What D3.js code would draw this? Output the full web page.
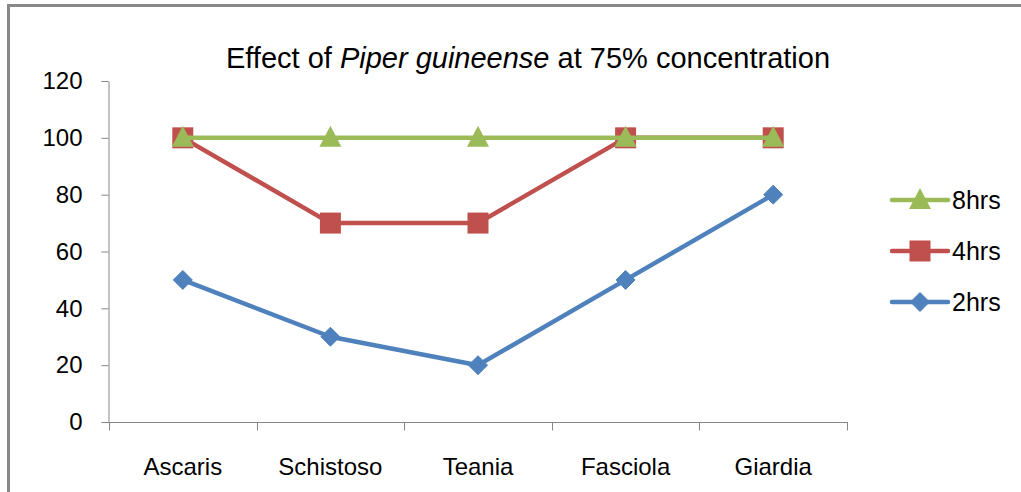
<!DOCTYPE html>
<html>
<head>
<meta charset="utf-8">
<script src="https://cdn.jsdelivr.net/npm/d3@7"></script>
<style>
  body { margin: 0; background: #fff; }
  svg { display: block; font-family: "Liberation Sans", Arial, sans-serif; }
</style>
</head>
<body>
<div id="chart"></div>
<script>
// chart data
var categories = ["Ascaris", "Schistoso", "Teania", "Fasciola", "Giardia"];
var seriesNames = ["2hrs", "4hrs", "8hrs"];
var hrs2 = [50, 30, 20, 50, 80];
var hrs4 = [100, 70, 70, 100, 100];
var hrs8 = [100, 100, 100, 100, 100];
var yTicks = [0, 20, 40, 60, 80, 100, 120];

var width = 1021, height = 492;
var colors = { "2hrs": "#4F81BD", "4hrs": "#C0504D", "8hrs": "#9BBB59" };

var svg = d3.select("#chart").append("svg")
    .attr("width", width)
    .attr("height", height);

// outer frame (runs off the right and bottom edges)
svg.append("rect")
    .attr("x", 8.5).attr("y", 5.5)
    .attr("width", 1100).attr("height", 600)
    .attr("fill", "none")
    .attr("stroke", "#888")
    .attr("stroke-width", 3);

var x = d3.scaleBand().domain(categories).range([109, 847]);
var y = d3.scaleLinear().domain([0, 120]).range([422, 81]);

// y axis
var yAxis = svg.append("g")
    .attr("transform", "translate(108.5,0)")
    .call(d3.axisLeft(y).tickValues(yTicks).tickSize(7).tickPadding(19).tickSizeOuter(0));
yAxis.select(".domain").attr("stroke", "#868686");
yAxis.selectAll(".tick line").attr("stroke", "#868686");
yAxis.selectAll("text")
    .attr("font-size", 24)
    .attr("fill", "#000")
    .attr("font-family", "Liberation Sans, Arial, sans-serif");

// x axis, ticks on band edges
var xg = svg.append("g").attr("transform", "translate(0,422.5)");
xg.append("line")
    .attr("x1", 108).attr("x2", 848)
    .attr("stroke", "#868686");
var edges = categories.map(function (c) { return x(c); }).concat([x.range()[1]]);
xg.selectAll(".xtick").data(edges).enter().append("line")
    .attr("x1", function (d) { return Math.round(d) + 0.5; })
    .attr("x2", function (d) { return Math.round(d) + 0.5; })
    .attr("y1", 0).attr("y2", 8)
    .attr("stroke", "#868686");
xg.selectAll(".xlabel").data(categories).enter().append("text")
    .attr("x", function (d) { return x(d) + x.bandwidth() / 2; })
    .attr("y", 52)
    .attr("text-anchor", "middle")
    .attr("font-size", 24)
    .text(function (d) { return d; });

// title
var title = svg.append("text")
    .attr("x", 528).attr("y", 68)
    .attr("text-anchor", "middle")
    .attr("font-size", 29);
title.append("tspan").text("Effect of ");
title.append("tspan").attr("font-style", "italic").text("Piper guineense");
title.append("tspan").text(" at 75% concentration");

var cx = function (i) { return x(categories[i]) + x.bandwidth() / 2; };

function marker(g, name, px, py) {
    var c = colors[name];
    if (name === "2hrs") {
        g.append("path")
            .attr("d", "M" + px + "," + (py - 9.5) + "L" + (px + 9.5) + "," + py + "L" + px + "," + (py + 9.5) + "L" + (px - 9.5) + "," + py + "Z")
            .attr("fill", c)
            .attr("stroke", c)
            .attr("stroke-width", 1)
            .attr("stroke-linejoin", "round");
    } else if (name === "4hrs") {
        g.append("rect")
            .attr("x", px - 10.5).attr("y", py - 10.5)
            .attr("width", 21).attr("height", 21)
            .attr("fill", c);
    } else {
        g.append("path")
            .attr("d", "M" + px + "," + (py - 12) + "L" + (px + 11) + "," + (py + 9) + "L" + (px - 11) + "," + (py + 9) + "Z")
            .attr("fill", c);
    }
}

var seriesData = { "2hrs": hrs2, "4hrs": hrs4, "8hrs": hrs8 };
var line = d3.line()
    .x(function (d, i) { return cx(i); })
    .y(function (d) { return y(d); });

seriesNames.forEach(function (name) {
    var vals = seriesData[name];
    var g = svg.append("g");
    g.append("path")
        .attr("d", line(vals))
        .attr("fill", "none")
        .attr("stroke", colors[name])
        .attr("stroke-width", 4.5)
        .attr("stroke-linejoin", "round")
        .attr("stroke-linecap", "round");
    vals.forEach(function (v, i) { marker(g, name, cx(i), y(v)); });
});

// legend, 8hrs on top
var legendOrder = ["8hrs", "4hrs", "2hrs"];
var legend = svg.append("g");
legendOrder.forEach(function (name, i) {
    var ly = 200 + i * 51;
    var g = legend.append("g");
    g.append("line")
        .attr("x1", 892).attr("x2", 948)
        .attr("y1", ly).attr("y2", ly)
        .attr("stroke", colors[name])
        .attr("stroke-width", 4.5)
        .attr("stroke-linecap", "round");
    marker(g, name, 920, ly);
    g.append("text")
        .attr("x", 952).attr("y", ly + 9)
        .attr("font-size", 25)
        .text(name);
});
</script>
</body>
</html>
